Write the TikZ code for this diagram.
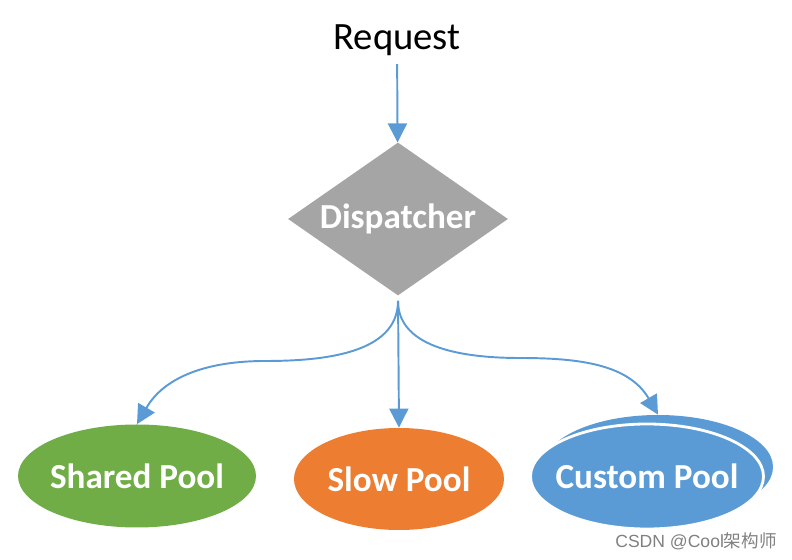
\documentclass[tikz,border=0pt]{standalone}
\usepackage{fontspec}
\setmainfont{Carlito}
\newfontfamily\cjk{Noto Sans CJK SC}
\newfontfamily\marksans{Liberation Sans}
\usetikzlibrary{shapes.geometric,arrows.meta}
\definecolor{linkblue}{HTML}{5B9BD5}
\definecolor{dispgray}{HTML}{A5A5A5}
\definecolor{sharedgreen}{HTML}{70AD47}
\definecolor{sloworange}{HTML}{ED7D31}
\begin{document}
\begin{tikzpicture}
		[pool/.style={ellipse,inner sep=0pt,text=white,font=\bfseries\fontsize{20}{24}\selectfont},
		link/.style={draw=linkblue,line width=1.1pt,-{Triangle[length=0.38cm,width=0.38cm]}}]
		\useasboundingbox (0,0) rectangle (15.84,11.2);
		\node[name=request,font=\fontsize{22}{26}\selectfont] at (7.94,10.39) {Request};
		\node[diamond,name=dispatcher,fill=dispgray,aspect=1.44,inner sep=0pt,minimum width=4.4cm,minimum height=3.06cm,text=white,font=\bfseries\fontsize{20}{24}\selectfont] at (7.96,6.82) {Dispatcher};
		\node[pool,name=shared,fill=sharedgreen,minimum width=4.76cm,minimum height=2.06cm] at (2.74,1.68) {\makebox[0pt]{Shared Pool}};
		\node[pool,name=slow,fill=sloworange,minimum width=4.2cm,minimum height=2.04cm] at (7.98,1.62) {\makebox[0pt]{Slow Pool}};
		\node[pool,name=customback,fill=linkblue,minimum width=4.6cm,minimum height=2.08cm] at (13.16,1.86) {};
		\node[pool,name=custom,fill=linkblue,draw=white,line width=1.6pt,minimum width=4.66cm,minimum height=2.1cm] at (12.94,1.67) {\makebox[0pt]{Custom Pool}};
		\node[name=mark,text=gray,font=\marksans\fontsize{10}{12}\selectfont] at (13.92,0.38) {CSDN @Cool{\cjk 架构师}};
		\coordinate (leftbend) at (5.3,3.98);
		\coordinate (rightbend) at (10.4,4.04);
		\draw[link,shorten <=0.04cm] (request) -- (dispatcher);
		\draw[link,shorten <=0.1cm] (dispatcher.south) -- (slow.north);
		\draw[link,shorten <=0.1cm] (dispatcher.south) to[out=-90,in=0] (leftbend) to[out=180,in=60] (shared.north);
		\draw[link,shorten <=0.1cm] (dispatcher.south) to[out=-90,in=180] (rightbend) to[out=0,in=120] (customback.north);
	\end{tikzpicture}
\end{document}
